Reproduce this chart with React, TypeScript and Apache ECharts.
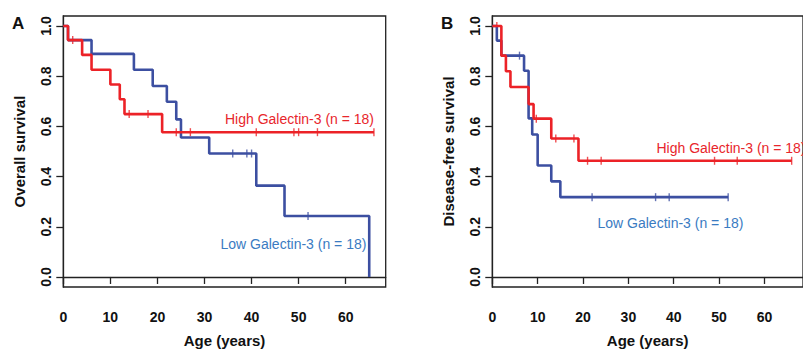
import React, { useEffect, useRef } from "react";
import * as echarts from "echarts";

// Panel A: Overall survival
const aHighTimes = [0, 1, 4, 6, 10, 12, 13, 21, 66];
const aHighSurv = [1, 0.944, 0.885, 0.826, 0.767, 0.708, 0.649, 0.577, 0.577];
const aHighCensor = [2, 14, 18, 24, 27, 41, 49, 50, 54, 66];

const aLowTimes = [0, 1, 6, 15, 19, 22, 24, 25, 31, 41, 47, 65];
const aLowSurv = [1, 0.944, 0.889, 0.826, 0.761, 0.698, 0.628, 0.556, 0.492, 0.364, 0.243, 0];
const aLowCensor = [36, 39, 40, 52];

// Panel B: Disease-free survival
const bHighTimes = [0, 2, 3, 4, 8, 9.1, 13, 19, 66];
const bHighSurv = [1, 0.882, 0.82, 0.757, 0.689, 0.631, 0.552, 0.463, 0.463];
const bHighCensor = [1, 9.7, 14, 18, 21, 24, 49, 54, 66];

const bLowTimes = [0, 1, 2, 7, 8, 8.8, 10, 13, 15, 52];
const bLowSurv = [1, 0.942, 0.882, 0.822, 0.632, 0.568, 0.444, 0.381, 0.318, 0.318];
const bLowCensor = [6, 22, 36, 39, 52];

const xTicks = [0, 10, 20, 30, 40, 50, 60];
const yTicks = [0, 0.2, 0.4, 0.6, 0.8, 1.0];

const RED = "#ec2227";
const BLUE = "#3c4fa1";
const RED_TEXT = "#e8262c";
const BLUE_TEXT = "#3a7bc2";
const FONT = "'Liberation Sans', Arial, Helvetica, sans-serif";

function pairs(t: number[], s: number[]) {
  return t.map((v, i) => [v, s[i]]);
}
function survAt(t: number[], s: number[], x: number) {
  let v = s[0];
  for (let i = 0; i < t.length; i++) if (t[i] <= x) v = s[i];
  return v;
}
function censorPts(t: number[], s: number[], c: number[]) {
  return c.map((x) => [x, survAt(t, s, x)]);
}

export default function App() {
  const ref = useRef<HTMLDivElement>(null);
  useEffect(() => {
    document.body.style.margin = "0";
    const chart = echarts.init(ref.current!, null, { renderer: "svg" });
    const gridW = 322.4;
    const gridH = 277.3;
    const mkX = (gi: number) => ({
      type: "value",
      gridIndex: gi,
      min: 0,
      max: 68.5,
      name: "Age (years)",
      nameLocation: "middle",
      nameGap: 46,
      nameTextStyle: { fontFamily: FONT, fontWeight: "bold", fontSize: 15, color: "#111" },
      axisLine: { show: true, lineStyle: { color: "#222", width: 1.3 } },
      axisTick: { show: true, length: 7, lineStyle: { color: "#222", width: 1.3 }, customValues: xTicks },
      axisLabel: {
        customValues: xTicks,
        margin: 23,
        fontFamily: FONT,
        fontWeight: "bold",
        fontSize: 14,
        color: "#111",
      },
      splitLine: { show: false },
    });
    const mkY = (gi: number, name: string) => ({
      type: "value",
      gridIndex: gi,
      min: -0.04,
      max: 1.04,
      name,
      nameLocation: "middle",
      nameGap: 36,
      nameTextStyle: { fontFamily: FONT, fontWeight: "bold", fontSize: 15, color: "#111" },
      axisLine: { show: true, lineStyle: { color: "#222", width: 1.3 } },
      axisTick: { show: true, length: 7, lineStyle: { color: "#222", width: 1.3 }, customValues: yTicks },
      axisLabel: {
        customValues: yTicks,
        rotate: 90,
        margin: 10,
        formatter: (v: number) => v.toFixed(1),
        fontFamily: FONT,
        fontWeight: "bold",
        fontSize: 14,
        color: "#111",
      },
      splitLine: { show: false },
    });
    const line = (gi: number, data: number[][], color: string) => ({
      type: "line",
      xAxisIndex: gi,
      yAxisIndex: gi,
      step: "end",
      data,
      showSymbol: false,
      symbol: "none",
      lineStyle: { color, width: 2.6 },
      silent: true,
    });
    const cens = (gi: number, data: number[][], color: string) => ({
      type: "scatter",
      xAxisIndex: gi,
      yAxisIndex: gi,
      data,
      symbol: "rect",
      symbolSize: [1.4, 8],
      itemStyle: { color },
      silent: true,
    });
    const txt = (x: number, y: number, text: string, fill: string) => ({
      type: "text",
      x,
      y,
      style: { text, fill, fontFamily: FONT, fontSize: 14, verticalAlign: "middle", align: "left" },
      silent: true,
    });
    chart.setOption({
      animation: false,
      backgroundColor: "#ffffff",
      grid: [
        { left: 63.3, top: 16, width: gridW, height: gridH, show: true, borderColor: "#222", borderWidth: 1.3, backgroundColor: "transparent" },
        { left: 492.3, top: 16, width: gridW, height: gridH, show: true, borderColor: "#222", borderWidth: 1.3, backgroundColor: "transparent" },
      ],
      xAxis: [mkX(0), mkX(1)],
      yAxis: [mkY(0, "Overall survival"), mkY(1, "Disease-free survival")],
      series: [
        line(0, pairs(aLowTimes, aLowSurv), BLUE),
        cens(0, censorPts(aLowTimes, aLowSurv, aLowCensor), BLUE),
        line(0, pairs(aHighTimes, aHighSurv), RED),
        cens(0, censorPts(aHighTimes, aHighSurv, aHighCensor), RED),
        line(1, pairs(bLowTimes, bLowSurv), BLUE),
        cens(1, censorPts(bLowTimes, bLowSurv, bLowCensor), BLUE),
        line(1, pairs(bHighTimes, bHighSurv), RED),
        cens(1, censorPts(bHighTimes, bHighSurv, bHighCensor), RED),
      ],
      graphic: [
        { type: "text", x: 12, y: 23, style: { text: "A", fill: "#111", fontFamily: FONT, fontWeight: "bold", fontSize: 17, verticalAlign: "middle" } },
        { type: "text", x: 441, y: 23, style: { text: "B", fill: "#111", fontFamily: FONT, fontWeight: "bold", fontSize: 17, verticalAlign: "middle" } },
        txt(225, 118.5, "High Galectin-3 (n = 18)", RED_TEXT),
        txt(220.5, 243.5, "Low Galectin-3 (n = 18)", BLUE_TEXT),
        txt(656.5, 148, "High Galectin-3 (n = 18)", RED_TEXT),
        txt(597.5, 223, "Low Galectin-3 (n = 18)", BLUE_TEXT),
      ],
    });
    return () => chart.dispose();
  }, []);
  return (
    <div
      ref={ref}
      style={{ position: "absolute", left: 0, top: 0, width: 803, height: 353, background: "#fff" }}
    />
  );
}
